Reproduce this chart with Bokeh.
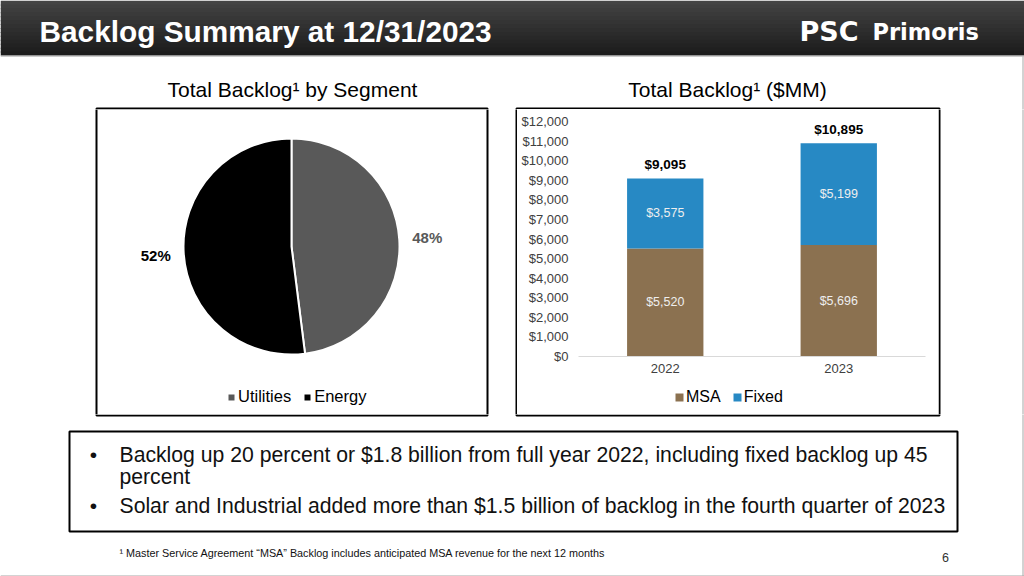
import numpy as np
from bokeh.plotting import figure
from bokeh.models import (ColumnDataSource, Range1d, FactorRange, LabelSet, Legend, LegendItem,
                          NumeralTickFormatter, SingleIntervalTicker)
from bokeh.layouts import column, row
from bokeh.embed import file_html
from bokeh.resources import INLINE
from bokeh.core.properties import value

# ---------------- data ----------------
slide_title = "Backlog Summary at 12/31/2023"
logo_mark = "PSC"
logo_name = "Primoris"
pie_title = "Total Backlog¹ by Segment"
bar_title = "Total Backlog¹ ($MM)"

segments = ["Utilities", "Energy"]
segment_share = [48, 52]
segment_colors = ["#595959", "#000000"]

years = ["2022", "2023"]
msa = [5520, 5696]
fixed = [3575, 5199]
totals = [9095, 10895]
series_names = ["MSA", "Fixed"]
series_colors = ["#8B7150", "#2789C4"]

bullets = [
    ["Backlog up 20 percent or $1.8 billion from full year 2022, including fixed backlog up 45",
     "percent"],
    ["Solar and Industrial added more than $1.5 billion of backlog in the fourth quarter of 2023"],
]
footnote = "¹ Master Service Agreement \u201cMSA\u201d Backlog includes anticipated MSA revenue for the next 12 months"
page_number = "6"

FONT = "Liberation Sans"

# panel boxes (slide layout, page pixels)
BOXES = dict(left=[96, 516], right=[487, 939], top=[-108, -108], bottom=[-415, -415])


def blank(width, height, xr, yr):
    f = figure(width=width, height=height, x_range=Range1d(*xr), y_range=Range1d(*yr),
               output_backend="svg", toolbar_location=None, min_border=0,
               x_axis_location=None, y_axis_location=None, outline_line_color=None,
               frame_align=False)
    f.grid.visible = False
    # chart boxes: each figure draws the part of the box borders that falls inside it
    f.quad(left=BOXES["left"], right=BOXES["right"], top=BOXES["top"], bottom=BOXES["bottom"],
           fill_color=None, line_color="black", line_width=2)
    # slide frame edge
    f.segment(x0=[1022.5, 0], y0=[-56, -575.5], x1=[1022.5, 1024], y1=[-576, -575.5],
              line_color="#a6a6a6", line_width=1)
    return f


# ---------------- header + titles ----------------
top = blank(1024, 109, (0, 1024), (-109, 0))
n_bands = 14
c0, c1 = np.array([68, 68, 68]), np.array([28, 28, 28])
for i in range(n_bands):
    t = i / (n_bands - 1)
    c = (c0 * (1 - t) + c1 * t).astype(int)
    b = min(55.0, (i + 1) * 55 / n_bands + 1.0)
    top.quad(left=0, right=1024, top=-(i * 55 / n_bands), bottom=-b,
             fill_color="#%02x%02x%02x" % tuple(c), line_color=None)
top.segment(x0=0, y0=-55.5, x1=1024, y1=-55.5, line_color="#9a9a9a", line_width=1)
top.text(x=[39], y=[-31], text=[slide_title], text_font=value(FONT), text_font_style="bold",
         text_font_size="29.8px", text_color="white", text_baseline="middle")
top.text(x=[799], y=[-31], text=[logo_mark], text_font=value("DejaVu Sans"), text_font_style="bold",
         text_font_size="27px", text_color="white", text_baseline="middle")
top.text(x=[872], y=[-31], text=[logo_name], text_font=value("DejaVu Sans"), text_font_style="bold",
         text_font_size="22.5px", text_color="white", text_baseline="middle")
top.text(x=[292, 727], y=[-89, -89], text=[pie_title, bar_title], text_font=value(FONT),
         text_font_size="21px", text_color="#000000", text_align="center", text_baseline="middle")

# ---------------- pie ----------------
left = blank(517, 305, (0, 517), (-414, -109))

share = np.array(segment_share, dtype=float) / sum(segment_share)
cum = np.cumsum(share)
start = np.pi / 2 - 2 * np.pi * (cum - share)
end = np.pi / 2 - 2 * np.pi * cum
mid = (start + end) / 2
cx, cy, r = 291, -246, 108
pie_src = ColumnDataSource(dict(seg=segments, start=start, end=end, color=segment_colors,
                                lx=cx + 136 * np.cos(mid), ly=cy + 136 * np.sin(mid),
                                lab=["%d%%" % s for s in segment_share]))
wedges = left.wedge(x=cx, y=cy, radius=r, start_angle="start", end_angle="end", direction="clock",
                    fill_color="color", line_color="white", line_width=2, source=pie_src)
left.text(x="lx", y="ly", text="lab", text_color="color", text_font=value(FONT), text_font_style="bold",
          text_font_size="15px", text_align="center", text_baseline="middle", source=pie_src)

pie_leg = Legend(items=[LegendItem(label=s, renderers=[wedges], index=i) for i, s in enumerate(segments)],
                 orientation="horizontal", location=(226, 8), glyph_width=10, glyph_height=10,
                 label_text_font=FONT, label_text_font_size="16.5px", label_text_color="#000000",
                 label_standoff=2, spacing=11, padding=0, margin=0, label_height=19,
                 border_line_color=None, background_fill_alpha=0)
left.add_layout(pie_leg)

# ---------------- stacked bars ----------------
bar = figure(width=421, height=276, x_range=FactorRange(*years, range_padding=0),
             y_range=Range1d(0, 12000), output_backend="svg", toolbar_location=None,
             min_border_left=61, min_border_right=13, min_border_top=12, min_border_bottom=29,
             outline_line_color=None, frame_align=False)
bar.grid.visible = False
bar_src = ColumnDataSource(dict(year=years, MSA=msa, Fixed=fixed, total=totals))
bar.vbar_stack(series_names, x="year", width=0.44, fill_color=series_colors,
               line_color=None, source=bar_src)

seg_src = ColumnDataSource(dict(
    x=years + years,
    y=[m / 2 for m in msa] + [m + f / 2 for m, f in zip(msa, fixed)],
    text=["$" + format(v, ",") for v in msa + fixed]))
bar.add_layout(LabelSet(x="x", y="y", text="text", source=seg_src, text_align="center",
                        text_baseline="middle", text_color="#eeeeee", text_font=value(FONT),
                        text_font_size="12.5px"))
tot_src = ColumnDataSource(dict(x=years, y=totals, text=["$" + format(v, ",") for v in totals]))
bar.add_layout(LabelSet(x="x", y="y", text="text", source=tot_src, text_align="center",
                        text_baseline="bottom", y_offset=6, text_color="#000000",
                        text_font=value(FONT), text_font_style="bold", text_font_size="13.5px"))

bar.yaxis.ticker = SingleIntervalTicker(interval=1000, num_minor_ticks=0)
bar.yaxis.formatter = NumeralTickFormatter(format="$0,0")
bar.yaxis.axis_line_color = None
bar.yaxis.major_tick_line_color = None
bar.yaxis.minor_tick_line_color = None
bar.yaxis.major_tick_out = 0
bar.yaxis.major_tick_in = 0
bar.yaxis.major_label_standoff = 10
bar.yaxis.major_label_text_font = FONT
bar.yaxis.major_label_text_font_size = "13px"
bar.yaxis.major_label_text_color = "#404040"

bar.xaxis.axis_line_color = "#d9d9d9"
bar.xaxis.major_tick_line_color = None
bar.xaxis.major_tick_out = 0
bar.xaxis.major_tick_in = 0
bar.xaxis.major_label_standoff = 7
bar.xaxis.major_label_text_font = FONT
bar.xaxis.major_label_text_font_size = "13px"
bar.xaxis.major_label_text_color = "#404040"

# legend strip under the bar chart: zero-width stacks outside its view, only the legend shows
strip = figure(width=421, height=29, x_range=bar.x_range, y_range=Range1d(-2, -1),
               output_backend="svg", toolbar_location=None, min_border=0,
               x_axis_location=None, y_axis_location=None, outline_line_color=None,
               frame_align=False)
strip.grid.visible = False
legend_rs = strip.vbar_stack(series_names, x="year", width=0, fill_color=series_colors,
                             line_color=None, source=bar_src)
bar_leg = Legend(items=[LegendItem(label=n, renderers=[r_]) for n, r_ in zip(series_names, legend_rs)],
                 orientation="horizontal", location=(157, 8), glyph_width=10, glyph_height=10,
                 label_text_font=FONT, label_text_font_size="16px", label_text_color="#000000",
                 label_standoff=2, spacing=11, padding=0, margin=0, label_height=18,
                 border_line_color=None, background_fill_alpha=0)
strip.add_layout(bar_leg)

right = blank(86, 305, (938, 1024), (-414, -109))

# ---------------- bullets + footnote ----------------
bottom = blank(1024, 162, (0, 1024), (-576, -414))
bottom.quad(left=69, right=957, top=-431, bottom=-531, fill_color=None, line_color="black", line_width=2)
line_y = [[454, 476], [505]]
bx, by, tx, ty, tt = [], [], [], [], []
for lines, ys in zip(bullets, line_y):
    bx.append(93)
    by.append(-ys[0])
    for ln, yy in zip(lines, ys):
        tx.append(119)
        ty.append(-yy)
        tt.append(ln)
bottom.text(x=bx, y=by, text=["\u2022"] * len(bx), text_font=value(FONT), text_font_size="21px",
            text_color="#111111", text_align="center", text_baseline="middle")
bottom.text(x=tx, y=ty, text=tt, text_font=value(FONT), text_font_size="21.2px",
            text_color="#111111", text_baseline="middle")
bottom.text(x=[119], y=[-552], text=[footnote], text_font=value(FONT), text_font_size="10.8px",
            text_color="#111111", text_baseline="middle")
bottom.text(x=[945], y=[-557], text=[page_number], text_font=value(FONT), text_font_size="12.5px",
            text_color="#333333", text_align="center", text_baseline="middle")

layout = column(top, row(left, column(bar, strip), right), bottom)

open("out.html", "w").write(file_html(layout, INLINE))
